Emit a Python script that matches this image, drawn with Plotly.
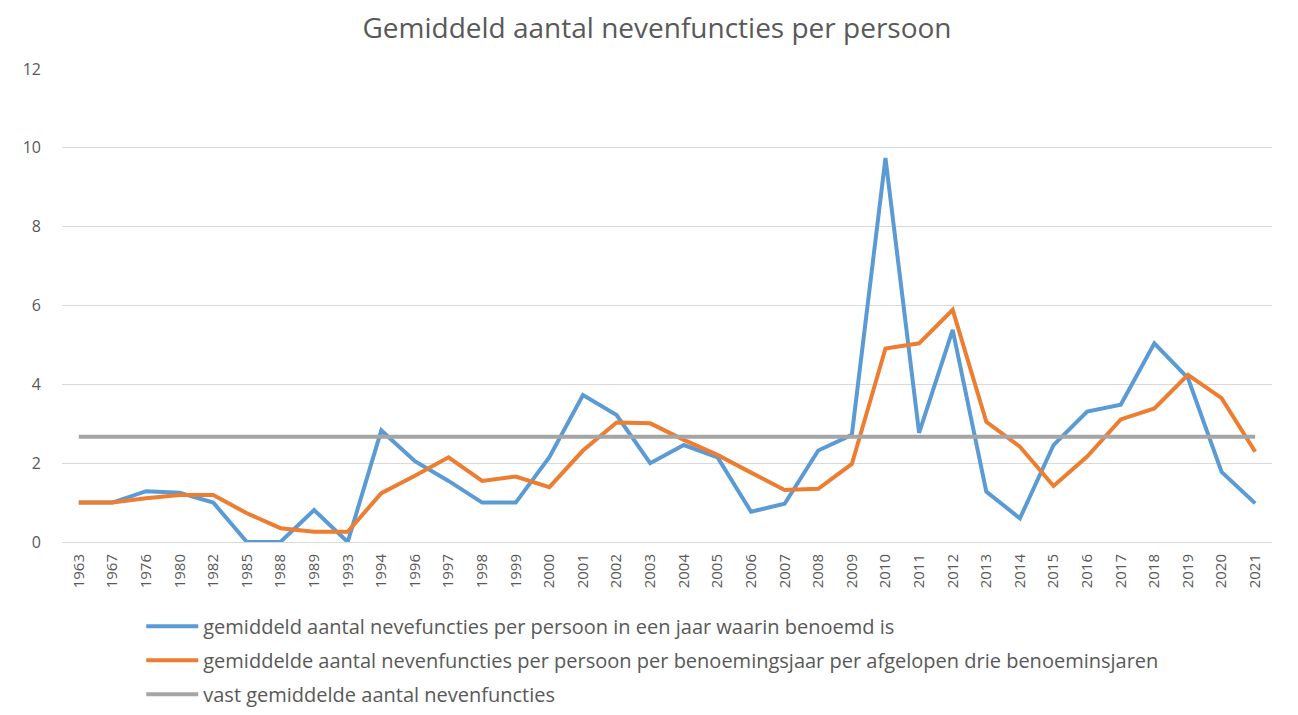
import plotly.graph_objects as go

years = ["1963", "1967", "1976", "1980", "1982", "1985", "1988", "1989", "1993", "1994",
         "1996", "1997", "1998", "1999", "2000", "2001", "2002", "2003", "2004", "2005",
         "2006", "2007", "2008", "2009", "2010", "2011", "2012", "2013", "2014", "2015",
         "2016", "2017", "2018", "2019", "2020", "2021"]

per_jaar = [1.0, 1.0, 1.29, 1.25, 1.0, 0.0, 0.0, 0.81, 0.0, 2.83,
            2.05, 1.55, 1.0, 1.0, 2.15, 3.73, 3.22, 2.0, 2.46, 2.15,
            0.77, 0.97, 2.32, 2.72, 9.74, 2.77, 5.38, 1.28, 0.6, 2.46,
            3.31, 3.48, 5.04, 4.16, 1.78, 0.98]

drie_jaar = [1.0, 1.0, 1.11, 1.19, 1.19, 0.73, 0.35, 0.26, 0.26, 1.24,
             1.68, 2.15, 1.55, 1.66, 1.39, 2.32, 3.03, 3.01, 2.59, 2.21,
             1.76, 1.32, 1.35, 1.98, 4.91, 5.04, 5.89, 3.05, 2.42, 1.42,
             2.17, 3.11, 3.39, 4.24, 3.65, 2.29]

vast_gemiddelde = 2.67

names = [
    "gemiddeld aantal nevefuncties per persoon in een jaar waarin benoemd is",
    "gemiddelde aantal nevenfuncties per persoon per benoemingsjaar per afgelopen drie benoeminsjaren",
    "vast gemiddelde aantal nevenfuncties",
]

font_family = "Open Sans, Lato, sans-serif"
text_grey = "#595959"

fig = go.Figure()
fig.add_trace(go.Scatter(x=years, y=per_jaar, mode="lines", name=names[0],
                         line=dict(color="#5b9bd5", width=4), legendgroup="a"))
fig.add_trace(go.Scatter(x=years, y=drie_jaar, mode="lines", name=names[1],
                         line=dict(color="#ed7d31", width=4), legendgroup="b"))
fig.add_trace(go.Scatter(x=years, y=[vast_gemiddelde] * len(years), mode="lines", name=names[2],
                         line=dict(color="#a5a5a5", width=4), legendgroup="c"))

# the page body adds an 8px offset, so margins are shifted by 8 to line up
fig.update_layout(
    width=1298, height=715,
    paper_bgcolor="white", plot_bgcolor="white",
    margin=dict(l=54, r=34, t=61, b=181, autoexpand=False),
    font=dict(family=font_family, color=text_grey, size=14),
    title=dict(text="Gemiddeld aantal nevenfuncties per persoon", x=0.5, xanchor="center",
               y=0.972, yanchor="middle", font=dict(size=28, color=text_grey)),
    showlegend=True,
    legend=dict(x=0.0655, xanchor="left", y=-0.137, yanchor="top", orientation="v",
                font=dict(size=20, color=text_grey), tracegroupgap=5,
                bgcolor="rgba(0,0,0,0)", itemwidth=52),
)
fig.update_xaxes(type="category", range=[-0.5, len(years) - 0.5], tickangle=-90,
                 showgrid=False, showline=False, ticks="", ticklabelstandoff=8,
                 tickfont=dict(size=15, color=text_grey))
fig.update_yaxes(range=[0, 12], dtick=2, showgrid=True, gridcolor="#d9d9d9", gridwidth=1,
                 zeroline=True, zerolinecolor="#d9d9d9", zerolinewidth=1,
                 showline=False, ticks="", ticklabelstandoff=20,
                 tickfont=dict(size=16, color=text_grey))

fig.write_html("out.html")
